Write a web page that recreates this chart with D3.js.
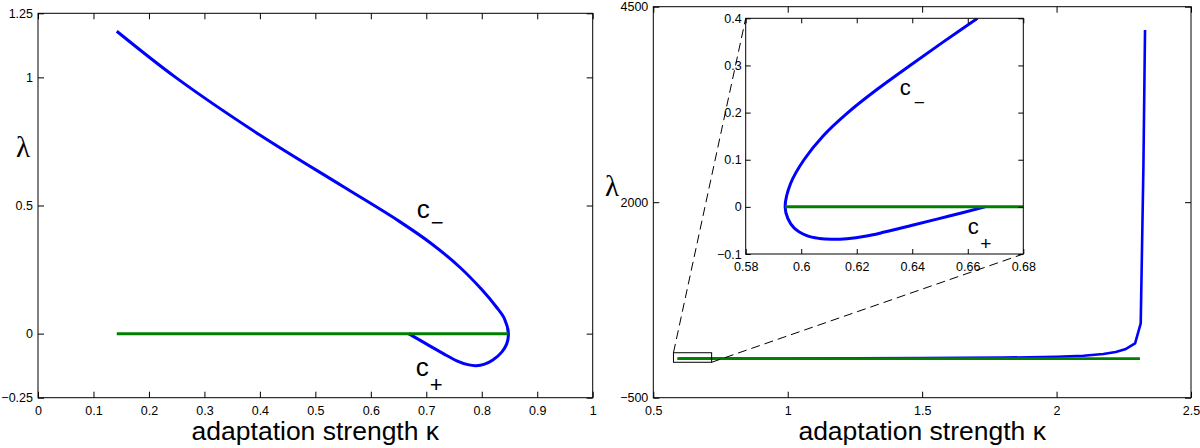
<!DOCTYPE html>
<html>
<head>
<meta charset="utf-8">
<script src="https://d3js.org/d3.v7.min.js"></script>
<style>
body { margin: 0; background: #fff; }
svg { display: block; }
.lab { font-family: "Liberation Sans", Arial, sans-serif; fill: #000; }
.lam { font-family: "Liberation Serif", "DejaVu Serif", serif; font-size: 29px; fill: #000; }
</style>
</head>
<body>
<svg width="1200" height="448"></svg>
<script>
// ---- left panel: the c-/c+ branch, lambda against kappa
var leftK   = [0.142, 0.25, 0.4, 0.55, 0.65, 0.71, 0.76, 0.8, 0.826, 0.841, 0.848, 0.845, 0.836, 0.82, 0.805, 0.79, 0.775, 0.755, 0.73, 0.7, 0.668];
var leftLam = [1.18, 0.997, 0.775, 0.574, 0.44, 0.35, 0.26, 0.172, 0.105, 0.058, 0.0, -0.04, -0.072, -0.103, -0.119, -0.125, -0.121, -0.106, -0.077, -0.04, 0.0];
var leftGreenK = [0.142, 0.848];
var leftXTicks = [0, 0.1, 0.2, 0.3, 0.4, 0.5, 0.6, 0.7, 0.8, 0.9, 1];
var leftYTicks = [-0.25, 0, 0.5, 1, 1.25];

// ---- right panel: full range
var rightK   = [0.594, 1.0, 1.5, 1.8, 2.0, 2.1, 2.174, 2.22, 2.255, 2.292, 2.313, 2.323, 2.329];
var rightLam = [0, 2, 6, 12, 24, 36, 59, 85, 119, 196, 451, 2454, 4202];
var rightGreenK = [0.589, 2.31];
var rightXTicks = [0.5, 1, 1.5, 2, 2.5];
var rightYTicks = [-500, 2000, 4500];
var zoomBoxK   = [0.575, 0.717];
var zoomBoxLam = [-47, 75];

// ---- inset: zoom around the fold (upper branch top -> tip -> lower branch)
var insetK   = [0.6635, 0.6512, 0.6392, 0.6275, 0.6168, 0.6078, 0.601, 0.5962, 0.5942, 0.5952, 0.5975, 0.602, 0.6065, 0.611, 0.6165, 0.623, 0.63, 0.64, 0.653, 0.6662];
var insetLam = [0.4, 0.35, 0.3, 0.25, 0.2, 0.15, 0.1, 0.05, 0, -0.025, -0.045, -0.061, -0.067, -0.0688, -0.0675, -0.0625, -0.0535, -0.039, -0.02, 0];
var insetGreenK = [0.5942, 0.68];
var insetXTicks = [0.58, 0.6, 0.62, 0.64, 0.66, 0.68];
var insetYTicks = [-0.1, 0, 0.1, 0.2, 0.3, 0.4];

var BLUE = "#0000ff", GREEN = "#007f00";
var fmt = d3.format("~g");
var svg = d3.select("svg");

function frame(g, x, y, xt, yt, tl, padX, padY) {
  var x0 = x.range()[0], x1 = x.range()[1], y0 = y.range()[0], y1 = y.range()[1];
  g.append("g").attr("transform", "translate(0," + y0 + ")")
    .call(d3.axisBottom(x).tickValues(xt).tickSize(-tl).tickPadding(padX).tickFormat(fmt));
  g.append("g").attr("transform", "translate(0," + y1 + ")")
    .call(d3.axisTop(x).tickValues(xt).tickSize(-tl).tickFormat(""));
  g.append("g").attr("transform", "translate(" + x0 + ",0)")
    .call(d3.axisLeft(y).tickValues(yt).tickSize(-tl).tickPadding(padY).tickFormat(fmt));
  g.append("g").attr("transform", "translate(" + x1 + ",0)")
    .call(d3.axisRight(y).tickValues(yt).tickSize(-tl).tickFormat(""));
  g.selectAll(".domain").remove();
  g.selectAll(".tick line").attr("stroke", "#000");
  g.selectAll(".tick text").attr("fill", "#000")
    .style("font-family", "'Liberation Sans', Arial, sans-serif").style("font-size", "12.5px");
  g.append("rect").attr("x", x0).attr("y", y1).attr("width", x1 - x0).attr("height", y0 - y1)
    .attr("fill", "none").attr("stroke", "#000").attr("stroke-width", 1);
}

function curve(g, x, y, ks, ls, color, kind) {
  var line = d3.line().x(function(d) { return x(d[0]); }).y(function(d) { return y(d[1]); })
    .curve(kind || d3.curveLinear);
  return g.append("path").datum(d3.zip(ks, ls)).attr("d", line)
    .attr("fill", "none").attr("stroke", color).attr("stroke-width", 3).attr("stroke-linejoin", "round");
}

function label(g, px, py, sub, size, subSize, dx, dy) {
  g.append("text").attr("class", "lab").attr("x", px).attr("y", py).style("font-size", size + "px").text("c");
  g.append("text").attr("class", "lab").attr("x", px + dx).attr("y", py + dy).style("font-size", subSize + "px").text(sub);
}

function xlabel(x, yb) {
  svg.append("text").attr("class", "lab").attr("x", (x.range()[0] + x.range()[1]) / 2).attr("y", yb)
    .attr("text-anchor", "middle").style("font-size", "26.5px").text("adaptation strength \u03ba");
}

/// LEFT
var xl = d3.scaleLinear().domain([0, 1]).range([38, 592.7]);
var yl = d3.scaleLinear().domain([-0.25, 1.25]).range([397.7, 13.3]);
var gl = svg.append("g");
frame(gl, xl, yl, leftXTicks, leftYTicks, 6, 8, 5);
curve(gl, xl, yl, leftK, leftLam, BLUE, d3.curveCatmullRom);
curve(gl, xl, yl, leftGreenK, [0, 0], GREEN);
label(gl, xl(0.683), yl(0.45), "\u2212", 26, 22, 14, 11.5);
label(gl, xl(0.681), yl(-0.165), "+", 26, 22, 14, 16);
svg.append("text").attr("class", "lam").attr("x", 16).attr("y", 157).text("\u03bb");
xlabel(xl, 440);

/// RIGHT
var xr = d3.scaleLinear().domain([0.5, 2.5]).range([653.3, 1191]);
var yr = d3.scaleLinear().domain([-500, 4500]).range([397.7, 6.7]);
var gr = svg.append("g");
frame(gr, xr, yr, rightXTicks, rightYTicks, 6, 8, 5);
curve(gr, xr, yr, rightK, rightLam, BLUE).attr("stroke-width", 2.6);
curve(gr, xr, yr, rightGreenK, [0, 0], GREEN).attr("stroke-width", 2.6);
svg.append("text").attr("class", "lam").attr("x", 605).attr("y", 196).text("\u03bb");
xlabel(xr, 440);

// inset placement (pixels)
var xi = d3.scaleLinear().domain([0.58, 0.68]).range([745.7, 1023.3]);
var yi = d3.scaleLinear().domain([-0.1, 0.4]).range([254, 18.3]);

gr.append("rect").attr("x", xr(zoomBoxK[0])).attr("y", yr(zoomBoxLam[1]))
  .attr("width", xr(zoomBoxK[1]) - xr(zoomBoxK[0])).attr("height", yr(zoomBoxLam[0]) - yr(zoomBoxLam[1]))
  .attr("fill", "none").attr("stroke", "#000").attr("stroke-width", 1);
gr.append("line").attr("x1", xr(zoomBoxK[0])).attr("y1", yr(zoomBoxLam[1]))
  .attr("x2", xi.range()[0]).attr("y2", yi.range()[1])
  .attr("stroke", "#000").attr("stroke-width", 1).attr("stroke-dasharray", "9,5");
gr.append("line").attr("x1", xr(zoomBoxK[1])).attr("y1", yr(zoomBoxLam[0]))
  .attr("x2", xi.range()[1]).attr("y2", yi.range()[0])
  .attr("stroke", "#000").attr("stroke-width", 1).attr("stroke-dasharray", "9,5");

/// INSET
var gi = svg.append("g");
gi.append("rect").attr("x", xi.range()[0]).attr("y", yi.range()[1])
  .attr("width", xi.range()[1] - xi.range()[0]).attr("height", yi.range()[0] - yi.range()[1]).attr("fill", "#fff");
svg.append("clipPath").attr("id", "insetClip").append("rect")
  .attr("x", xi.range()[0]).attr("y", yi.range()[1])
  .attr("width", xi.range()[1] - xi.range()[0]).attr("height", yi.range()[0] - yi.range()[1]);
var gic = gi.append("g").attr("clip-path", "url(#insetClip)");
curve(gic, xi, yi, insetK, insetLam, BLUE, d3.curveCatmullRom);
curve(gic, xi, yi, insetGreenK, [0, 0], GREEN);
frame(gi, xi, yi, insetXTicks, insetYTicks, 5, 8, 4);
label(gi, xi(0.6355), yi(0.2374), "\u2212", 22, 19, 14, 14);
label(gi, xi(0.66), yi(-0.0575), "+", 22, 19, 12.5, 16.5);
</script>
</body>
</html>
